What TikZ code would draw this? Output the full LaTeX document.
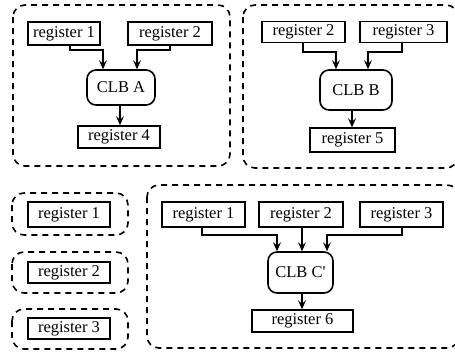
\documentclass[tikz,border=0pt]{standalone}
\usepackage{fontspec}
\setmainfont{Liberation Serif}
\usetikzlibrary{arrows.meta}
\begin{document}
\begin{tikzpicture}[x=1pt,y=-1pt,
  reg/.style={draw,line width=1.6pt,inner sep=0pt,font=\fontsize{16.5}{18}\selectfont},
  clb/.style={draw,line width=1.6pt,rounded corners=9pt,inner sep=0pt,font=\fontsize{16.5}{18}\selectfont},
  grp/.style={draw,line width=1.6pt,dash pattern=on 6pt off 5pt,rounded corners=12pt},
  arr/.style={line width=1.1pt,-{Stealth[length=9pt,width=8pt,inset=3.5pt]}},
  ln/.style={line width=1.1pt}]
\useasboundingbox[clip] (0,0) rectangle (455,351);
% group outlines
\draw[grp] (13,5) rectangle (230,166);
\draw[grp] (243,5) rectangle (458,168);
\draw[grp] (12,193) rectangle (128,235);
\draw[grp] (12,252) rectangle (128,293);
\draw[grp] (12,309) rectangle (128,349);
\draw[grp] (147,185) rectangle (459,348);
% top-left
\node[reg,minimum width=72pt,minimum height=23pt] (r1a) at (64,33.5) {register 1};
\node[reg,minimum width=84pt,minimum height=23pt] (r2a) at (170,33.5) {register 2};
\node[clb,minimum width=68pt,minimum height=35pt] (clbA) at (121,87.5) {CLB A};
\node[reg,minimum width=82pt,minimum height=22pt] (r4) at (119,137) {register 4};
\coordinate (a1) at (70,50); \coordinate (a2) at (103,50);
\coordinate (a3) at (170,50); \coordinate (a4) at (137,50);
\draw[arr] (r1a.south -| a1) -- (a1) -- (a2) -- (clbA.north -| a2);
\draw[arr] (r2a.south -| a3) -- (a3) -- (a4) -- (clbA.north -| a4);
\coordinate (a5) at (120,0);
\draw[arr] (clbA.south -| a5) -- (r4.north -| a5);
% top-right
\node[reg,minimum width=83pt,minimum height=21pt] (r2b) at (303.5,32) {register 2};
\node[reg,minimum width=87pt,minimum height=21pt] (r3b) at (403.5,32) {register 3};
\node[clb,minimum width=72pt,minimum height=40pt] (clbB) at (356,90) {CLB B};
\node[reg,minimum width=85pt,minimum height=24pt] (r5) at (352.5,140) {register 5};
\coordinate (b1) at (303,52); \coordinate (b2) at (336,52);
\coordinate (b3) at (402,52); \coordinate (b4) at (368,52);
\draw[arr] (r2b.south -| b1) -- (b1) -- (b2) -- (clbB.north -| b2);
\draw[arr] (r3b.south -| b3) -- (b3) -- (b4) -- (clbB.north -| b4);
\coordinate (b5) at (352,0);
\draw[arr] (clbB.south -| b5) -- (r5.north -| b5);
% bottom-left
\node[reg,minimum width=82pt,minimum height=25pt] (s1) at (69,214.5) {register 1};
\node[reg,minimum width=82pt,minimum height=21pt] (s2) at (69,272.5) {register 2};
\node[reg,minimum width=82pt,minimum height=21pt] (s3) at (69,328.5) {register 3};
% bottom-right
\node[reg,minimum width=83pt,minimum height=25pt] (r1c) at (203.5,214.5) {register 1};
\node[reg,minimum width=84pt,minimum height=25pt] (r2c) at (301,214.5) {register 2};
\node[reg,minimum width=83pt,minimum height=25pt] (r3c) at (401.5,214.5) {register 3};
\node[clb,minimum width=65pt,minimum height=41pt] (clbC) at (300.5,272.5) {CLB C\textquotesingle};
\node[reg,minimum width=101pt,minimum height=22pt] (r6) at (302.5,321) {register 6};
\coordinate (c1) at (202,235); \coordinate (c2) at (277,235);
\coordinate (c3) at (402,235); \coordinate (c4) at (327,235);
\coordinate (c5) at (302,0);
\draw[arr] (r1c.south -| c1) -- (c1) -- (c2) -- (clbC.north -| c2);
\draw[arr] (r3c.south -| c3) -- (c3) -- (c4) -- (clbC.north -| c4);
\draw[arr] (r2c.south -| c5) -- (clbC.north -| c5);
\draw[arr] (clbC.south -| c5) -- (r6.north -| c5);
\end{tikzpicture}
\end{document}
